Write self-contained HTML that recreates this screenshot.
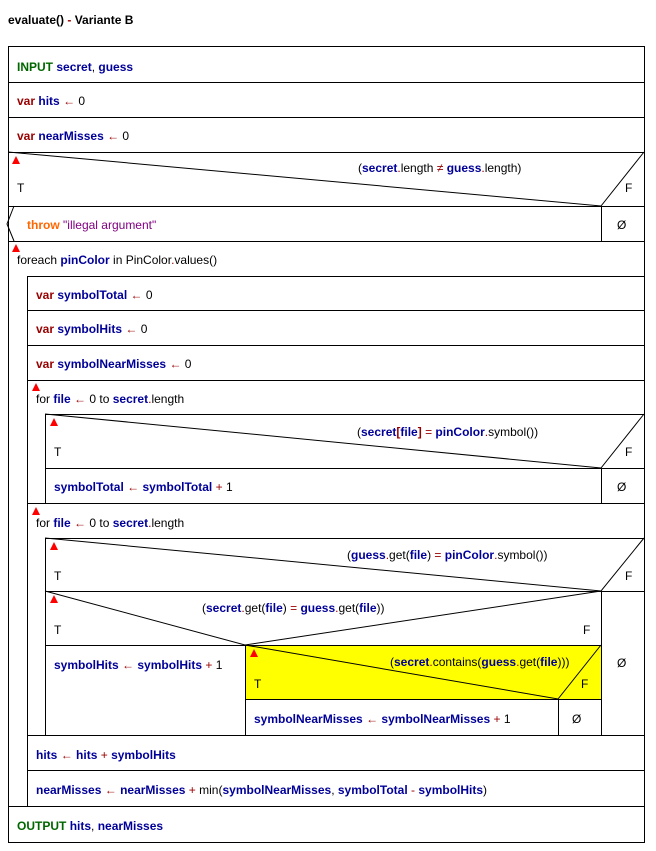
<!DOCTYPE html>
<html><head><meta charset="utf-8"><style>
body{margin:0;background:#fff}
svg{display:block;font-family:"Liberation Sans",Arial,sans-serif;font-size:12px}
.v{fill:#000099;font-weight:bold}
.k{fill:#990000;font-weight:bold}
.o{fill:#990000}
.g{fill:#006600;font-weight:bold}
.t{fill:#ff6600;font-weight:bold}
.s{fill:#800080}
line,rect,polyline{stroke:#000;stroke-width:1;fill:none}
.tri{fill:#f00;stroke:none}
</style></head><body>
<svg width="656" height="851" viewBox="0 0 656 851">
<text x="8" y="24" style="font-weight:bold">evaluate() <tspan class="o">-</tspan> Variante B</text>
<rect x="8.5" y="46.5" width="636" height="796"/>
<rect x="245" y="645" width="356" height="54" style="fill:#ffff00;stroke:none"/>
<!-- horizontal lines -->
<line x1="8" y1="82.5" x2="644" y2="82.5"/>
<line x1="8" y1="117.5" x2="644" y2="117.5"/>
<line x1="8" y1="152.5" x2="644" y2="152.5"/>
<line x1="8" y1="206.5" x2="644" y2="206.5"/>
<line x1="8" y1="241.5" x2="644" y2="241.5"/>
<line x1="27.5" y1="276" x2="27.5" y2="806"/>
<line x1="27" y1="276.5" x2="644" y2="276.5"/>
<line x1="27" y1="310.5" x2="644" y2="310.5"/>
<line x1="27" y1="345.5" x2="644" y2="345.5"/>
<line x1="27" y1="380.5" x2="644" y2="380.5"/>
<line x1="45.5" y1="414" x2="45.5" y2="503"/>
<line x1="45" y1="414.5" x2="644" y2="414.5"/>
<line x1="45" y1="468.5" x2="644" y2="468.5"/>
<line x1="27" y1="503.5" x2="644" y2="503.5"/>
<line x1="45.5" y1="538" x2="45.5" y2="735"/>
<line x1="45" y1="538.5" x2="644" y2="538.5"/>
<line x1="45" y1="591.5" x2="644" y2="591.5"/>
<line x1="45" y1="645.5" x2="601" y2="645.5"/>
<line x1="245" y1="699.5" x2="601" y2="699.5"/>
<line x1="27" y1="735.5" x2="644" y2="735.5"/>
<line x1="27" y1="770.5" x2="644" y2="770.5"/>
<line x1="8" y1="806.5" x2="644" y2="806.5"/>
<!-- verticals -->
<line x1="601.5" y1="206" x2="601.5" y2="241"/>
<line x1="601.5" y1="468" x2="601.5" y2="503"/>
<line x1="601.5" y1="591" x2="601.5" y2="735"/>
<line x1="245.5" y1="645" x2="245.5" y2="735"/>
<line x1="558.5" y1="699" x2="558.5" y2="735"/>
<!-- diagonals -->
<polyline points="8,152 601,206 644,152"/>
<polyline points="14,206 7,224 14,241"/>
<polyline points="45,414 601,468 644,414"/>
<polyline points="45,538 601,591 644,538"/>
<polyline points="45,591 245,645 601,591"/>
<polyline points="245,645 558,699 601,645"/>
<!-- triangles -->
<polygon class="tri" points="16,156 12,164 20,164"/>
<polygon class="tri" points="16,244 12,252 20,252"/>
<polygon class="tri" points="36,383 32,391 40,391"/>
<polygon class="tri" points="54,418 50,426 58,426"/>
<polygon class="tri" points="36,507 32,515 40,515"/>
<polygon class="tri" points="54,542 50,550 58,550"/>
<polygon class="tri" points="54,595 50,603 58,603"/>
<polygon class="tri" points="254,649 250,657 258,657"/>
<!-- texts -->
<text x="17" y="71"><tspan class="g">INPUT</tspan> <tspan class="v">secret</tspan>, <tspan class="v">guess</tspan></text>
<text x="17" y="105"><tspan class="k">var</tspan> <tspan class="v">hits</tspan> <tspan class="o">←</tspan> 0</text>
<text x="17" y="140"><tspan class="k">var</tspan> <tspan class="v">nearMisses</tspan> <tspan class="o">←</tspan> 0</text>
<text x="358" y="172">(<tspan class="v">secret</tspan><tspan class="o">.</tspan>length <tspan class="o">≠</tspan> <tspan class="v">guess</tspan><tspan class="o">.</tspan>length)</text>
<text x="17" y="192">T</text><text x="625" y="192">F</text>
<text x="27" y="229"><tspan class="t">throw</tspan> <tspan class="s">"illegal argument"</tspan></text>
<text x="617" y="229">Ø</text>
<text x="17" y="264">foreach <tspan class="v">pinColor</tspan> in PinColor<tspan class="o">.</tspan>values()</text>
<text x="36" y="299"><tspan class="k">var</tspan> <tspan class="v">symbolTotal</tspan> <tspan class="o">←</tspan> 0</text>
<text x="36" y="333"><tspan class="k">var</tspan> <tspan class="v">symbolHits</tspan> <tspan class="o">←</tspan> 0</text>
<text x="36" y="368"><tspan class="k">var</tspan> <tspan class="v">symbolNearMisses</tspan> <tspan class="o">←</tspan> 0</text>
<text x="36" y="403">for <tspan class="v">file</tspan> <tspan class="o">←</tspan> 0 to <tspan class="v">secret</tspan><tspan class="o">.</tspan>length</text>
<text x="357" y="436">(<tspan class="v">secret</tspan><tspan class="k">[</tspan><tspan class="v">file</tspan><tspan class="k">]</tspan> <tspan class="o">=</tspan> <tspan class="v">pinColor</tspan><tspan class="o">.</tspan>symbol())</text>
<text x="54" y="456">T</text><text x="625" y="456">F</text>
<text x="54" y="491"><tspan class="v">symbolTotal</tspan> <tspan class="o">←</tspan> <tspan class="v">symbolTotal</tspan> <tspan class="o">+</tspan> 1</text>
<text x="617" y="491">Ø</text>
<text x="36" y="527">for <tspan class="v">file</tspan> <tspan class="o">←</tspan> 0 to <tspan class="v">secret</tspan><tspan class="o">.</tspan>length</text>
<text x="347" y="559">(<tspan class="v">guess</tspan><tspan class="o">.</tspan>get(<tspan class="v">file</tspan>) <tspan class="o">=</tspan> <tspan class="v">pinColor</tspan><tspan class="o">.</tspan>symbol())</text>
<text x="54" y="580">T</text><text x="625" y="580">F</text>
<text x="202" y="612">(<tspan class="v">secret</tspan><tspan class="o">.</tspan>get(<tspan class="v">file</tspan>) <tspan class="o">=</tspan> <tspan class="v">guess</tspan><tspan class="o">.</tspan>get(<tspan class="v">file</tspan>))</text>
<text x="54" y="634">T</text><text x="583" y="634">F</text>
<text x="54" y="669"><tspan class="v">symbolHits</tspan> <tspan class="o">←</tspan> <tspan class="v">symbolHits</tspan> <tspan class="o">+</tspan> 1</text>
<text x="617" y="667">Ø</text>
<text x="390" y="666">(<tspan class="v">secret</tspan><tspan class="o">.</tspan>contains(<tspan class="v">guess</tspan><tspan class="o">.</tspan>get(<tspan class="v">file</tspan>)))</text>
<text x="254" y="688">T</text><text x="581" y="688">F</text>
<text x="254" y="723"><tspan class="v">symbolNearMisses</tspan> <tspan class="o">←</tspan> <tspan class="v">symbolNearMisses</tspan> <tspan class="o">+</tspan> 1</text>
<text x="572" y="723">Ø</text>
<text x="36" y="759"><tspan class="v">hits</tspan> <tspan class="o">←</tspan> <tspan class="v">hits</tspan> <tspan class="o">+</tspan> <tspan class="v">symbolHits</tspan></text>
<text x="36" y="794"><tspan class="v">nearMisses</tspan> <tspan class="o">←</tspan> <tspan class="v">nearMisses</tspan> <tspan class="o">+</tspan> min(<tspan class="v">symbolNearMisses</tspan>, <tspan class="v">symbolTotal</tspan> <tspan class="o">-</tspan> <tspan class="v">symbolHits</tspan>)</text>
<text x="17" y="830"><tspan class="g">OUTPUT</tspan> <tspan class="v">hits</tspan>, <tspan class="v">nearMisses</tspan></text>
</svg>
</body></html>
